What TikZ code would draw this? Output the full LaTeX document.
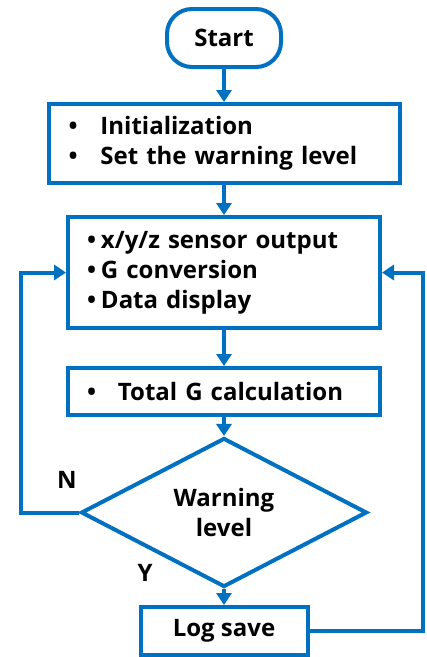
\documentclass[tikz,border=0pt]{standalone}
\usepackage{fontspec}
\setmainfont{Open Sans}
\usetikzlibrary{shapes.geometric,arrows.meta}
\definecolor{flowblue}{RGB}{0,112,192}
\newcommand{\bul}[1]{\makebox[#1][l]{\textbullet}}
\tikzset{
  box/.style={draw=flowblue, line width=4pt, fill=white, font=\bfseries\fontsize{24}{30}\selectfont},
  flow/.style={draw=flowblue, line width=4pt, -{Triangle[length=12pt,width=15pt]}},
  lbl/.style={font=\bfseries\fontsize{24}{26}\selectfont},
}
\begin{document}
\begin{tikzpicture}[x=1pt,y=-1pt]
  \useasboundingbox (0,0) rectangle (427,657);
  \node[box, rounded corners=25pt, minimum width=114pt, minimum height=58pt] (start) at (224,38) {Start};
  \node[box, text width=311pt, inner xsep=20pt, minimum height=79pt, align=left] (init) at (224,143.5)
    {\bul{32pt}Initialization\\\bul{32pt}Set the warning level};
  \node[box, text width=274pt, inner xsep=19pt, minimum height=111pt, align=left] (sensor) at (224,272.5)
    {\bul{14pt}x/y/z sensor output\\\bul{14pt}G conversion\\\bul{14pt}Data display};
  \node[box, text width=274pt, inner xsep=19pt, minimum height=47pt, align=left] (total) at (224,391.5)
    {\bul{31pt}Total G calculation};
  \node[box, diamond, minimum width=286pt, minimum height=115pt, inner sep=0pt, align=center] (warn) at (224,512.5)
    {Warning\\level};
  \node[box, minimum width=167pt, minimum height=48pt] (logsave) at (224,631) {Log save};
  % labels of the decision
  \node[lbl] (no) at (67,480) {N};
  \node[lbl] (yes) at (145,573) {Y};
  % connectors
  \draw[flow] (start) -- (init);
  \draw[flow] (init) -- (sensor);
  \draw[flow] (sensor) -- (total);
  \draw[flow] (total) -- (warn);
  \draw[flow] (warn) -- (logsave);
  \draw[flow] (warn.west) -- ++(-58,0) |- (sensor.west);
  \draw[flow] (logsave.east) -- ++(113,0) |- (sensor.east);
\end{tikzpicture}
\end{document}
